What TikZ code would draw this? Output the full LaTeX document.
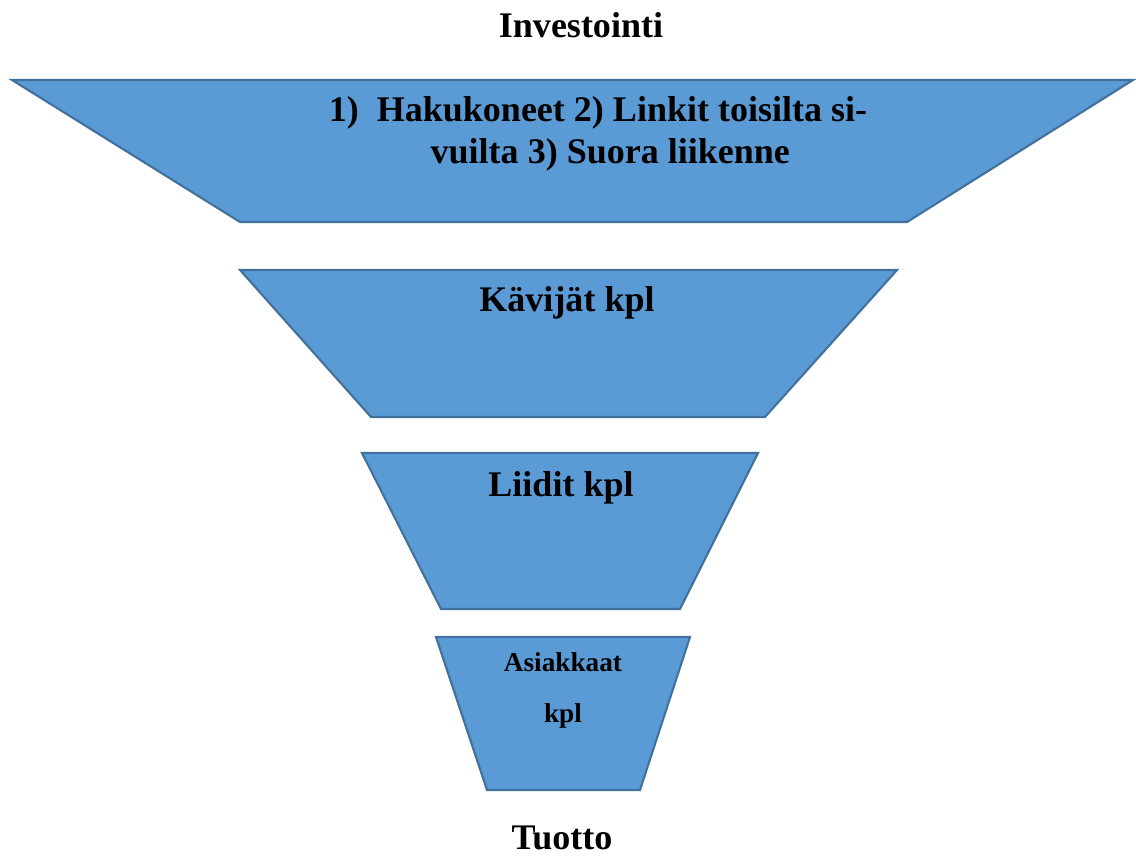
\documentclass[tikz,border=0pt]{standalone}
\usepackage{fontspec}
\setmainfont{Liberation Serif}
\definecolor{funnelblue}{HTML}{5B9BD5}
\definecolor{funnelline}{HTML}{41719C}
\begin{document}
\begin{tikzpicture}[x=0.02cm,y=-0.02cm]
    \tikzstyle{funnel} = [fill=funnelblue, draw=funnelline, line width=1.2pt, line join=miter]
    \tikzstyle{label} = [font=\bfseries\fontsize{20.5}{24}\selectfont, align=center, inner sep=0pt]
    \tikzstyle{small} = [font=\bfseries\fontsize{15.5}{29}\selectfont, align=center, inner sep=0pt]
    \useasboundingbox (0,0) rectangle (1136,858);

    \draw [funnel] (12,80) -- (1133,80) -- (907,222) -- (240,222) -- cycle;
    \draw [funnel] (240,270) -- (897,270) -- (765,417) -- (371,417) -- cycle;
    \draw [funnel] (362,453) -- (758,453) -- (680,609) -- (441,609) -- cycle;
    \draw [funnel] (436,637) -- (690,637) -- (640,790) -- (487,790) -- cycle;

    \node (invest) [label] at (581,25) {Investointi};
    \node (traffic) [label] at (598,134) {1)\ \ Hakukoneet 2) Linkit toisilta si-\\ \hspace*{14pt}vuilta 3) Suora liikenne};
    \node (visitors) [label] at (567,303) {Kävijät kpl};
    \node (leads) [label] at (561,488) {Liidit kpl};
    \node (customers) [small] at (563,690) {Asiakkaat\\ kpl};
    \node (revenue) [label] at (562,838) {Tuotto};

\end{tikzpicture}
\end{document}
